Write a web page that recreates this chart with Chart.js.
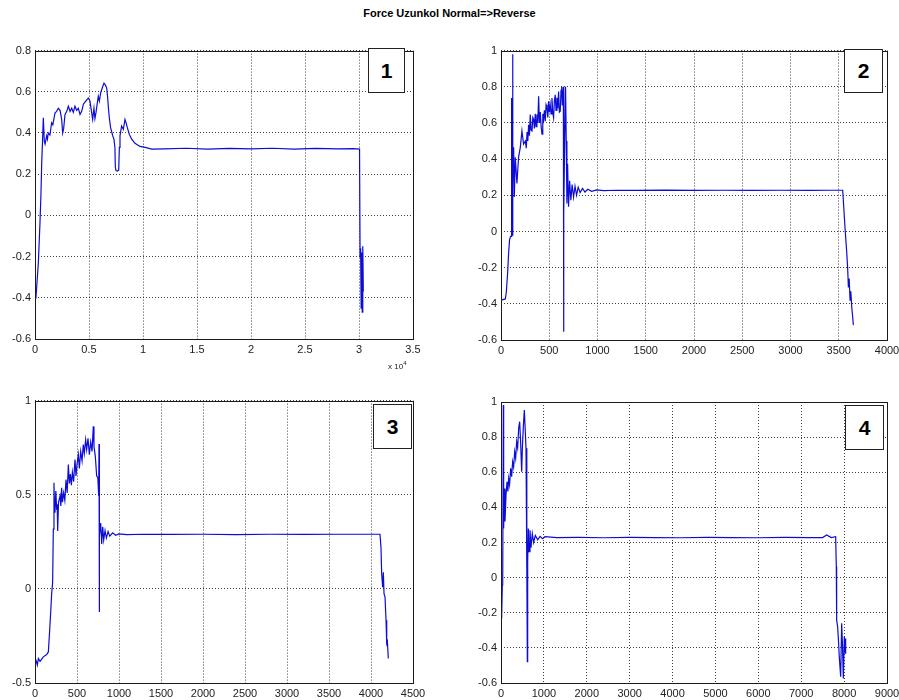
<!DOCTYPE html>
<html>
<head>
<meta charset="utf-8">
<script src="https://cdn.jsdelivr.net/npm/chart.js@4.4.1/dist/chart.umd.min.js"></script>
<style>
  html, body { margin: 0; padding: 0; background: #fff; width: 899px; height: 700px; overflow: hidden; position: relative; font-family: "Liberation Sans", Arial, sans-serif; }
  canvas { position: absolute; }
  #title { position: absolute; left: 0; top: 7px; width: 899px; text-align: center; font-weight: bold; font-size: 11px; color: #000; }
  .tag { position: absolute; background: #fff; border: 1px solid #222; box-sizing: border-box; font-weight: bold; font-size: 21px; text-align: center; color: #000; }
  #exp { position: absolute; left: 388px; top: 360px; font-size: 8px; color: #222; }
  #exp sup { font-size: 6px; }
</style>
</head>
<body>
<div id="title">Force Uzunkol Normal=&gt;Reverse</div>
<canvas id="c1" width="440" height="330" style="left:0px;top:40px"></canvas>
<canvas id="c2" width="460" height="330" style="left:450px;top:40px"></canvas>
<canvas id="c3" width="440" height="310" style="left:0px;top:390px"></canvas>
<canvas id="c4" width="460" height="310" style="left:450px;top:390px"></canvas>
<div class="tag" style="left:368px;top:48px;width:37px;height:45px;line-height:43px">1</div>
<div class="tag" style="left:844px;top:49px;width:39px;height:44px;line-height:42px">2</div>
<div class="tag" style="left:373px;top:404px;width:39px;height:45px;line-height:43px">3</div>
<div class="tag" style="left:845px;top:405px;width:39px;height:45px;line-height:43px">4</div>
<div id="exp">x 10<sup>4</sup></div>
<script>
// plot 1 (x in units of 10^4)
const p1x = [0, 0.009, 0.031, 0.046, 0.055, 0.062, 0.071, 0.077, 0.086, 0.093, 0.108, 0.115, 0.123, 0.138, 0.154, 0.165, 0.185, 0.2, 0.216, 0.232,
  0.247, 0.256, 0.265, 0.278, 0.294, 0.309, 0.325, 0.34, 0.355, 0.37, 0.386, 0.401, 0.417, 0.432, 0.448, 0.463, 0.478, 0.494, 0.509, 0.525,
  0.534, 0.546, 0.555, 0.565, 0.577, 0.586, 0.596, 0.608, 0.627, 0.639, 0.651, 0.664, 0.673, 0.68, 0.688, 0.70, 0.72, 0.731, 0.74, 0.744,
  0.75, 0.762, 0.775, 0.781, 0.787, 0.802, 0.818, 0.833, 0.843, 0.855, 0.873, 0.895, 0.926, 0.972, 1.02, 1.08, 1.2, 1.4, 1.6, 1.8,
  2.0, 2.2, 2.4, 2.6, 2.8, 2.95, 3.005, 3.01, 3.015, 3.02, 3.025, 3.03, 3.035, 3.04];
const p1y = [-0.40, -0.397, -0.23, -0.037, 0.10, 0.25, 0.38, 0.474, 0.36, 0.346, 0.386, 0.37, 0.40, 0.39, 0.45, 0.44, 0.497, 0.505, 0.52, 0.51,
  0.466, 0.40, 0.42, 0.49, 0.505, 0.53, 0.505, 0.52, 0.50, 0.53, 0.51, 0.52, 0.49, 0.505, 0.54, 0.55, 0.56, 0.57, 0.555, 0.498,
  0.466, 0.52, 0.47, 0.50, 0.546, 0.578, 0.555, 0.595, 0.626, 0.642, 0.634, 0.618, 0.57, 0.52, 0.474, 0.426, 0.386, 0.37, 0.33, 0.234,
  0.218, 0.215, 0.22, 0.33, 0.386, 0.434, 0.418, 0.466, 0.45, 0.426, 0.394, 0.37, 0.35, 0.335, 0.33, 0.322, 0.323, 0.326, 0.322, 0.325,
  0.323, 0.326, 0.322, 0.325, 0.323, 0.324, 0.322, -0.2, -0.16, -0.45, -0.18, -0.47, -0.15, -0.37];
const p1xTicks = [0, 0.5, 1, 1.5, 2, 2.5, 3, 3.5];
const p1yTicks = [-0.6, -0.4, -0.2, 0, 0.2, 0.4, 0.6, 0.8];

// plot 2
const p2x = [0, 45, 55, 69, 79, 89, 100, 107, 110, 114, 120, 124, 131, 138, 148, 165, 182, 200, 217, 234,
  252, 262, 270, 278, 286, 295, 303, 312, 321, 330, 338, 346, 355, 363, 372, 381, 390, 398, 407, 416,
  425, 433, 442, 450, 459, 467, 476, 485, 493, 502, 510, 519, 528, 536, 545, 553, 562, 570, 579, 588,
  597, 605, 614, 622, 629, 635, 642, 646, 648, 652, 660, 669, 676, 683, 690, 700, 711, 724, 737, 752,
  767, 783, 800, 820, 845, 870, 900, 940, 990, 1063, 1200, 1400, 1700, 2000, 2300, 2600, 2900, 3200, 3400, 3541,
  3565, 3582, 3592, 3600, 3608, 3617, 3625, 3635, 3644, 3651];
const p2y = [-0.38, -0.373, -0.336, -0.227, -0.118, -0.045, -0.027, -0.027, 0.738, -0.02, 0.98, 0.28, 0.465, 0.19, 0.41, 0.265, 0.41, 0.465, 0.556, 0.483,
  0.50, 0.46, 0.55, 0.5, 0.59, 0.53, 0.647, 0.56, 0.556, 0.63, 0.62, 0.57, 0.65, 0.58, 0.647, 0.6, 0.747, 0.6, 0.66, 0.58,
  0.538, 0.65, 0.62, 0.67, 0.61, 0.7, 0.683, 0.63, 0.72, 0.66, 0.7, 0.65, 0.738, 0.66, 0.629, 0.72, 0.756, 0.67, 0.74, 0.68,
  0.774, 0.66, 0.665, 0.78, 0.80, 0.7, 0.76, 0.80, -0.555, 0.1, 0.5, 0.80, 0.50, 0.155, 0.374, 0.137, 0.28, 0.173, 0.26, 0.19,
  0.25, 0.2, 0.245, 0.215, 0.238, 0.218, 0.233, 0.222, 0.23, 0.226, 0.228, 0.227, 0.229, 0.227, 0.228, 0.227, 0.228, 0.227, 0.228, 0.228,
  0.019, -0.109, -0.2, -0.309, -0.26, -0.38, -0.33, -0.42, -0.47, -0.518];
const p2xTicks = [0, 500, 1000, 1500, 2000, 2500, 3000, 3500, 4000];
const p2yTicks = [-0.6, -0.4, -0.2, 0, 0.2, 0.4, 0.6, 0.8, 1];

// plot 3
const p3x = [0, 12, 28, 40, 60, 99, 139, 159, 171, 187, 198, 210, 218, 226, 232, 238, 248, 258, 264, 270,
  280, 298, 308, 317, 327, 341, 355, 369, 383, 397, 409, 421, 433, 445, 460, 476, 488, 500, 516, 528,
  544, 560, 575, 587, 603, 615, 631, 647, 663, 679, 694, 702, 718, 734, 748, 758, 762, 764, 766, 770,
  782, 794, 806, 818, 834, 850, 870, 890, 925, 960, 1000, 1091, 1300, 1600, 2000, 2400, 2800, 3200, 3600, 3900,
  4107, 4119, 4127, 4139, 4147, 4155, 4167, 4179, 4187, 4195, 4206];
const p3y = [-0.38, -0.379, -0.405, -0.37, -0.385, -0.361, -0.349, -0.335, -0.247, -0.123, -0.027, 0.035, 0.317, 0.563, 0.43, 0.405, 0.52, 0.42, 0.45, 0.308,
  0.46, 0.493, 0.44, 0.537, 0.46, 0.51, 0.47, 0.58, 0.51, 0.66, 0.56, 0.61, 0.55, 0.62, 0.57, 0.687, 0.6, 0.66, 0.713, 0.64,
  0.73, 0.68, 0.766, 0.72, 0.792, 0.74, 0.8, 0.713, 0.78, 0.73, 0.863, 0.757, 0.704, 0.60, 0.59, 0.493, 0.77, -0.123, 0.5, 0.282,
  0.35, 0.238, 0.33, 0.26, 0.31, 0.27, 0.305, 0.28, 0.298, 0.285, 0.292, 0.288, 0.29, 0.289, 0.29, 0.288, 0.29, 0.289, 0.29, 0.29,
  0.29, 0.22, 0.079, 0.009, 0.088, -0.026, -0.044, -0.167, -0.29, -0.28, -0.37];
const p3xTicks = [0, 500, 1000, 1500, 2000, 2500, 3000, 3500, 4000, 4500];
const p3yTicks = [-0.5, 0, 0.5, 1];

// plot 4
const p4x = [0, 16, 31, 40, 54, 62, 78, 93, 117, 140, 160, 179, 200, 225, 248, 272, 295, 319, 342, 365,
  388, 412, 435, 458, 482, 500, 521, 544, 563, 583, 598, 606, 614, 622, 637, 653, 676, 700, 730, 762,
  800, 855, 910, 970, 1026, 1300, 1800, 2400, 3000, 3600, 4200, 4800, 5400, 6000, 6600, 7200, 7500, 7593, 7700, 7803,
  7818, 7826, 7849, 7872, 7887, 7920, 7943, 7958, 7982, 8005, 8029, 8036];
const p4y = [-0.23, -0.213, -0.042, -0.03, 0.983, 0.28, 0.508, 0.32, 0.47, 0.546, 0.49, 0.565, 0.53, 0.622, 0.575, 0.66, 0.63, 0.717, 0.68, 0.774,
  0.74, 0.85, 0.888, 0.77, 0.603, 0.75, 0.86, 0.954, 0.85, 0.736, 0.28, 0.053, -0.479, 0.09, 0.28, 0.148, 0.27, 0.17, 0.25, 0.2,
  0.24, 0.215, 0.235, 0.222, 0.233, 0.228, 0.229, 0.227, 0.229, 0.228, 0.227, 0.229, 0.228, 0.227, 0.229, 0.228, 0.228, 0.243, 0.228, 0.233,
  0.062, -0.241, -0.28, -0.374, -0.45, -0.564, -0.26, -0.355, -0.574, -0.336, -0.43, -0.346];
const p4xTicks = [0, 1000, 2000, 3000, 4000, 5000, 6000, 7000, 8000, 9000];
const p4yTicks = [-0.6, -0.4, -0.2, 0, 0.2, 0.4, 0.6, 0.8, 1];

// box around the axes, like matlab "box on"
const framePlugin = {
  id: 'frame',
  afterDraw(chart) {
    const a = chart.chartArea, c = chart.ctx;
    c.save();
    c.strokeStyle = '#1a1a1a';
    c.lineWidth = 1;
    c.strokeRect(Math.round(a.left) + 0.5, Math.round(a.top) + 0.5, Math.round(a.right - a.left), Math.round(a.bottom - a.top));
    c.restore();
  }
};

const tickFont = { family: '"Liberation Sans", Arial, sans-serif', size: 11 };
const fmt = v => String(+Number(v).toFixed(2));

function drawPlot(id, xs, ys, xTicks, yTicks, yWidth, xHeight, padTop, padRight) {
  const pts = xs.map((x, i) => ({ x: x, y: ys[i] }));
  new Chart(document.getElementById(id), {
    type: 'line',
    data: {
      datasets: [{
        data: pts,
        borderColor: '#0c0cd6',
        borderWidth: 1.2,
        pointRadius: 0,
        tension: 0,
        fill: false
      }]
    },
    options: {
      responsive: false,
      animation: false,
      events: [],
      layout: { padding: { top: padTop, right: padRight, left: 0, bottom: 0 } },
      plugins: { legend: { display: false }, tooltip: { enabled: false } },
      scales: {
        x: {
          type: 'linear',
          min: xTicks[0],
          max: xTicks[xTicks.length - 1],
          afterBuildTicks: s => { s.ticks = xTicks.map(v => ({ value: v })); },
          afterFit: s => { s.height = xHeight; },
          grid: { color: 'rgba(0,0,0,0.75)', lineWidth: 1, drawTicks: false },
          border: { display: false, dash: [1, 2] },
          ticks: { color: '#222', font: tickFont, padding: 4, maxRotation: 0, autoSkip: false, callback: fmt }
        },
        y: {
          type: 'linear',
          min: yTicks[0],
          max: yTicks[yTicks.length - 1],
          afterBuildTicks: s => { s.ticks = yTicks.map(v => ({ value: v })); },
          afterFit: s => { s.width = yWidth; },
          grid: { color: 'rgba(0,0,0,0.75)', lineWidth: 1, drawTicks: false },
          border: { display: false, dash: [1, 2] },
          ticks: { color: '#222', font: tickFont, padding: 4, autoSkip: false, callback: fmt }
        }
      }
    },
    plugins: [framePlugin]
  });
}

drawPlot('c1', p1x, p1y, p1xTicks, p1yTicks, 35, 31, 7, 27);
drawPlot('c2', p2x, p2y, p2xTicks, p2yTicks, 51, 30, 7, 23);
drawPlot('c3', p3x, p3y, p3xTicks, p3yTicks, 35, 17, 10, 27);
drawPlot('c4', p4x, p4y, p4xTicks, p4yTicks, 51, 17, 12, 23);
</script>
</body>
</html>
